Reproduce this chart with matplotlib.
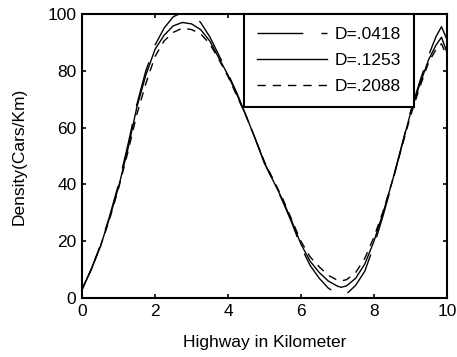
import matplotlib
matplotlib.use("Agg")
import matplotlib.pyplot as plt

plt.rcParams['font.family'] = ['Liberation Sans', 'DejaVu Sans']
plt.rcParams['font.size'] = 12.5

# distance along the highway (km)
x_km = [0, 0.25, 0.5, 0.75, 1.0, 1.25, 1.5, 1.75, 2.0, 2.25, 2.5, 2.75, 3.0,
        3.25, 3.5, 3.75, 4.0, 4.25, 4.5, 4.75, 5.0, 5.25, 5.5, 5.75, 6.0,
        6.25, 6.5, 6.75, 7.0, 7.1, 7.25, 7.5, 7.75, 8.0, 8.25, 8.5, 8.75,
        9.0, 9.25, 9.5, 9.7, 9.85, 10.0]

# density for each diffusion coefficient
dens_0418 = [3, 10, 18.5, 28.5, 40, 53.5, 68, 80, 89, 95, 99, 100.5, 100,
             97, 92, 85.5, 79, 72, 64, 56, 47.5, 41, 34, 26.5, 18,
             11.5, 7, 3.5, 1.5, 1.0, 1.5, 4.5, 9.5, 18.5, 29, 40.5, 53,
             65.5, 76, 85.5, 92, 95.5, 91]
dens_1253 = [3, 10, 18, 28, 39, 52, 67, 78.5, 87.5, 92.5, 95.8, 97, 96.5,
             94.5, 90.5, 84.5, 78.5, 71.5, 64, 56, 47.5, 41, 34.5, 27, 19,
             13, 9, 6, 4.2, 3.8, 4.3, 7, 12, 20, 30, 41, 53,
             65, 75, 84, 89, 91.8, 86.5]
dens_2088 = [3, 10, 18, 27.5, 38.5, 51, 64.5, 75.5, 85, 90.5, 93.5, 95, 94.5,
             93, 89.5, 84, 78, 71, 64, 56, 48, 41.5, 35, 27.5, 20,
             14.5, 11, 8, 6.3, 6, 6.5, 9, 14, 21.5, 30.5, 41, 52.5,
             64, 74, 83, 87.5, 89.5, 85]
labels = ['D=.0418', 'D=.1253', 'D=.2088']

fig = plt.figure(figsize=(4.57, 3.57), dpi=100)
ax = fig.add_axes([0.1794, 0.165, 0.7986, 0.796])

ax.plot(x_km, dens_0418, color='black', lw=1.0, dashes=(33, 13), label=labels[0])
ax.plot(x_km, dens_1253, color='black', lw=1.0, label=labels[1])
ax.plot(x_km, dens_2088, color='black', lw=1.0, dashes=(6, 5), label=labels[2])

ax.set_xlim(0, 10)
ax.set_ylim(0, 100)
ax.set_xticks([0, 2, 4, 6, 8, 10])
ax.set_yticks([0, 20, 40, 60, 80, 100])
ax.tick_params(direction='in', length=3, width=1.2, top=True, right=True,
               labelsize=12.5, colors='black', pad=4)
for s in ax.spines.values():
    s.set_linewidth(1.5)

ax.set_xlabel('Highway in Kilometer', fontsize=12.5, labelpad=12)
ax.set_ylabel('Density(Cars/Km)', fontsize=12.5, labelpad=15)

leg = ax.legend(loc='upper right', bbox_to_anchor=(0.91, 1.0), borderaxespad=0,
                fancybox=False, framealpha=1, edgecolor='black',
                handlelength=4, handletextpad=0.45, labelspacing=0.62,
                borderpad=0.75, fontsize=12.5)
leg.get_frame().set_linewidth(1.5)

fig.savefig('out.png', dpi=100)
